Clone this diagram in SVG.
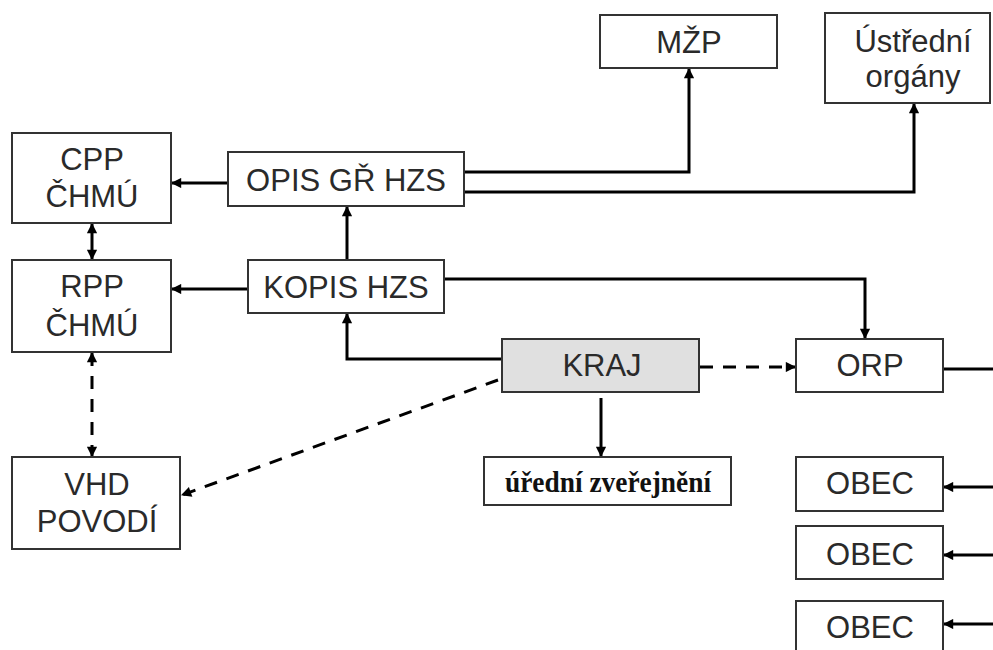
<svg xmlns="http://www.w3.org/2000/svg" width="993" height="650" viewBox="0 0 993 650">
<defs>
<style>
.box{fill:#fff;stroke:#333;stroke-width:2}
.gray{fill:#e0e0e0}
.t{font-family:"Liberation Sans",Arial,sans-serif;font-size:31px;fill:#2a2a2a;text-anchor:middle}
.b{font-family:"Liberation Serif","Times New Roman",serif;font-size:30px;font-weight:bold;fill:#111;text-anchor:middle}
.c{fill:none;stroke:#000;stroke-width:3}
.d{stroke-dasharray:13 10}
</style>
<marker id="ah" viewBox="0 0 10 10" refX="9" refY="5" markerWidth="4" markerHeight="3.4" orient="auto-start-reverse" markerUnits="strokeWidth">
<path d="M0,0 L10,5 L0,10 z" fill="#000"/>
</marker>
</defs>
<rect width="993" height="650" fill="#fff"/>
<g id="connectors">
<path class="c" d="M228,183 H172" marker-end="url(#ah)"/>
<path class="c" d="M248,289 H172" marker-end="url(#ah)"/>
<path class="c" d="M347,260 V207" marker-end="url(#ah)"/>
<path class="c" d="M92,224 V259" marker-start="url(#ah)" marker-end="url(#ah)"/>
<path class="c d" d="M92,353 V456" marker-start="url(#ah)" marker-end="url(#ah)"/>
<path class="c" d="M464,172 H689 V69" marker-end="url(#ah)"/>
<path class="c" d="M464,192 H914 V104" marker-end="url(#ah)"/>
<path class="c" d="M444,279 H865 V338" marker-end="url(#ah)"/>
<path class="c" d="M502,359 H347 V314" marker-end="url(#ah)"/>
<path class="c d" d="M700,367 H795" marker-end="url(#ah)"/>
<path class="c" d="M601,398 V456" marker-end="url(#ah)"/>
<path class="c d" d="M498,380 L182,495" marker-end="url(#ah)"/>
<path class="c" d="M943,369 H993"/>
<path class="c" d="M993,487 H944" marker-end="url(#ah)"/>
<path class="c" d="M993,555 H944" marker-end="url(#ah)"/>
<path class="c" d="M993,624 H944" marker-end="url(#ah)"/>
</g>
<g id="cpp"><rect class="box" x="12" y="133" width="159" height="90"/><text class="t" x="92" y="170">CPP</text><text class="t" x="92" y="207">ČHMÚ</text></g>
<g id="rpp"><rect class="box" x="12" y="260" width="159" height="92"/><text class="t" x="92" y="297">RPP</text><text class="t" x="92" y="336">ČHMÚ</text></g>
<g id="vhd"><rect class="box" x="12" y="457" width="168" height="92"/><text class="t" x="97" y="495">VHD</text><text class="t" x="97" y="532">POVODÍ</text></g>
<g id="opis"><rect class="box" x="228" y="152" width="236" height="54"/><text class="t" x="346" y="191">OPIS GŘ HZS</text></g>
<g id="kopis"><rect class="box" x="248" y="260" width="196" height="53"/><text class="t" x="346" y="298">KOPIS HZS</text></g>
<g id="mzp"><rect class="box" x="600" y="15" width="177" height="53"/><text class="t" x="689" y="53">MŽP</text></g>
<g id="ustredni"><rect class="box" x="825" y="13" width="165" height="90"/><text class="t" x="913" y="52">Ústřední</text><text class="t" x="913" y="87">orgány</text></g>
<g id="kraj"><rect class="box gray" x="502" y="339" width="197" height="53"/><text class="t" x="602" y="376">KRAJ</text></g>
<g id="orp"><rect class="box" x="796" y="339" width="147" height="53"/><text class="t" x="870" y="376">ORP</text></g>
<g id="zverejneni"><rect class="box" x="484" y="457" width="247" height="48"/><text class="b" x="608" y="492" textLength="206" lengthAdjust="spacingAndGlyphs">úřední zveřejnění</text></g>
<g id="obec1"><rect class="box" x="796" y="457" width="147" height="54"/><text class="t" x="870" y="494">OBEC</text></g>
<g id="obec2"><rect class="box" x="796" y="526" width="147" height="53"/><text class="t" x="870" y="565">OBEC</text></g>
<g id="obec3"><rect class="box" x="796" y="601" width="147" height="60"/><text class="t" x="870" y="638">OBEC</text></g>
</svg>
